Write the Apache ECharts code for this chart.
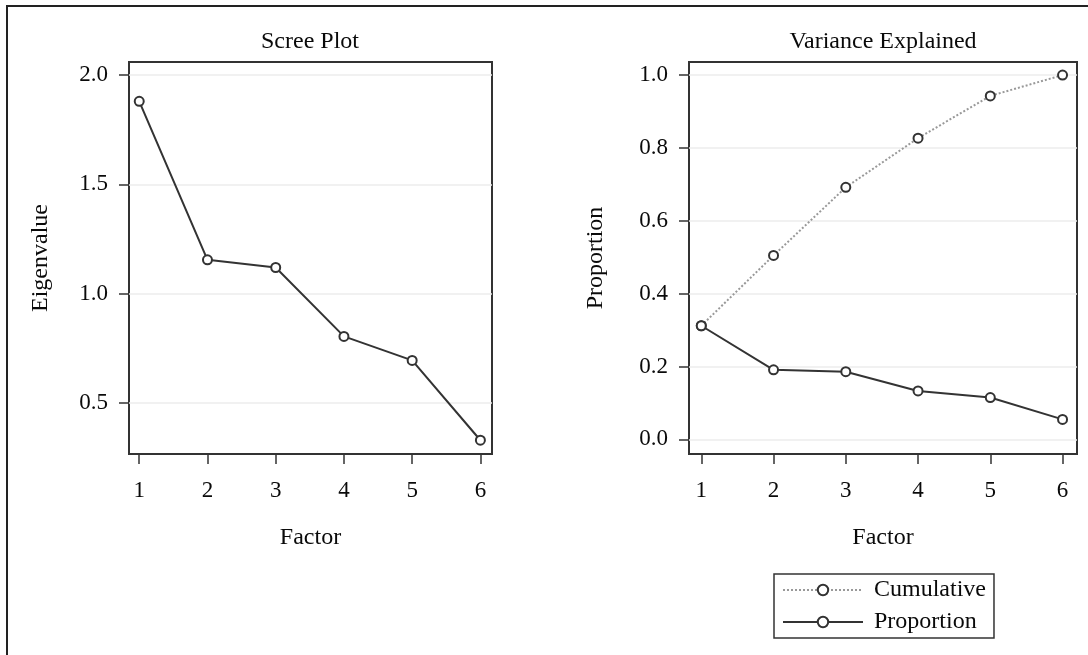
<!DOCTYPE html>
<html>
<head>
<meta charset="utf-8">
<script src="https://cdn.jsdelivr.net/npm/echarts@6/dist/echarts.min.js"></script>
<style>
  html, body { margin: 0; padding: 0; background: #fff; }
  #main { width: 1088px; height: 655px; }
</style>
</head>
<body>
<div id="main"></div>
<script>
// factors 1..6
const factors = [1, 2, 3, 4, 5, 6]
// scree plot
const eigenvalues = [1.88, 1.155, 1.12, 0.805, 0.695, 0.33]
// variance explained
const proportion = [0.312, 0.191, 0.186, 0.133, 0.115, 0.055]
const cumulative = [0.312, 0.505, 0.692, 0.827, 0.943, 1.0]
// tick labels
const screeTicks = [0.5, 1.0, 1.5, 2.0]
const varTicks = [0.0, 0.2, 0.4, 0.6, 0.8, 1.0]

const serif = 'Liberation Serif'
const ink = '#333'
const textColor = '#0a0a0a'

const pairs = (vals) => factors.map((f, i) => [f, vals[i]])

const xAxisBase = (gridIndex, min, max) => ({
  type: 'value',
  gridIndex: gridIndex,
  min: min,
  max: max,
  name: 'Factor',
  nameLocation: 'middle',
  nameGap: 72,
  nameTextStyle: { fontFamily: serif, fontSize: 24, color: textColor },
  axisLine: { show: false, onZero: false },
  axisTick: { show: true, length: 10, inside: false, customValues: factors, lineStyle: { color: ink, width: 1.5 } },
  axisLabel: { customValues: factors, margin: 25, fontFamily: serif, fontSize: 23, color: textColor },
  splitLine: { show: false }
})

const yAxisBase = (gridIndex, min, max, ticks, name, gap) => ({
  type: 'value',
  gridIndex: gridIndex,
  min: min,
  max: max,
  name: name,
  nameLocation: 'middle',
  nameGap: gap,
  nameRotate: 90,
  nameTextStyle: { fontFamily: serif, fontSize: 24, color: textColor },
  axisLine: { show: false, onZero: false },
  axisTick: { show: true, length: 10, inside: false, customValues: ticks, lineStyle: { color: ink, width: 1.5 } },
  axisLabel: {
    customValues: ticks,
    margin: 21,
    fontFamily: serif,
    fontSize: 23,
    color: textColor,
    formatter: v => v.toFixed(1)
  },
  splitLine: { show: true, lineStyle: { color: '#ececec', width: 1.5 } }
})

const chart = echarts.init(document.getElementById('main'))
chart.setOption({
  animation: false,
  backgroundColor: '#fff',
  graphic: [
    {
      type: 'rect',
      shape: { x: 7, y: 6, width: 1200, height: 800 },
      style: { fill: 'none', stroke: '#222', lineWidth: 2 },
      silent: true
    }
  ],
  title: [
    {
      text: 'Scree Plot',
      left: 310,
      top: 30,
      textAlign: 'center',
      padding: 0,
      textStyle: { fontFamily: serif, fontSize: 24, fontWeight: 'normal', color: textColor }
    },
    {
      text: 'Variance Explained',
      left: 883,
      top: 30,
      textAlign: 'center',
      padding: 0,
      textStyle: { fontFamily: serif, fontSize: 24, fontWeight: 'normal', color: textColor }
    }
  ],
  grid: [
    { left: 129, top: 62, width: 363, height: 392, show: true, borderColor: ink, borderWidth: 2, backgroundColor: 'transparent' },
    { left: 689, top: 62, width: 388, height: 392, show: true, borderColor: ink, borderWidth: 2, backgroundColor: 'transparent' }
  ],
  xAxis: [
    xAxisBase(0, 0.85, 6.17),
    xAxisBase(1, 0.83, 6.2)
  ],
  yAxis: [
    yAxisBase(0, 0.267, 2.06, screeTicks, 'Eigenvalue', 76),
    yAxisBase(1, -0.04, 1.036, varTicks, 'Proportion', 81)
  ],
  legend: {
    data: ['Cumulative', 'Proportion'],
    orient: 'vertical',
    left: 774,
    top: 574,
    itemWidth: 80,
    itemHeight: 13,
    itemGap: 8,
    padding: [4, 8, 4, 8],
    borderColor: ink,
    borderWidth: 1.5,
    textStyle: { fontFamily: serif, fontSize: 24, color: textColor, padding: [0, 0, 0, 6] }
  },
  series: [
    {
      name: 'Eigenvalue',
      type: 'line',
      xAxisIndex: 0,
      yAxisIndex: 0,
      data: pairs(eigenvalues),
      symbol: 'emptyCircle',
      symbolSize: 9,
      lineStyle: { color: ink, width: 2 },
      itemStyle: { color: ink, borderWidth: 1.5 }
    },
    {
      name: 'Cumulative',
      type: 'line',
      xAxisIndex: 1,
      yAxisIndex: 1,
      data: pairs(cumulative),
      symbol: 'emptyCircle',
      symbolSize: 9,
      lineStyle: { color: '#999', width: 2, type: 'dotted' },
      itemStyle: { color: ink, borderWidth: 1.5 }
    },
    {
      name: 'Proportion',
      type: 'line',
      xAxisIndex: 1,
      yAxisIndex: 1,
      data: pairs(proportion),
      symbol: 'emptyCircle',
      symbolSize: 9,
      lineStyle: { color: ink, width: 2 },
      itemStyle: { color: ink, borderWidth: 1.5 }
    }
  ]
})
</script>
</body>
</html>
